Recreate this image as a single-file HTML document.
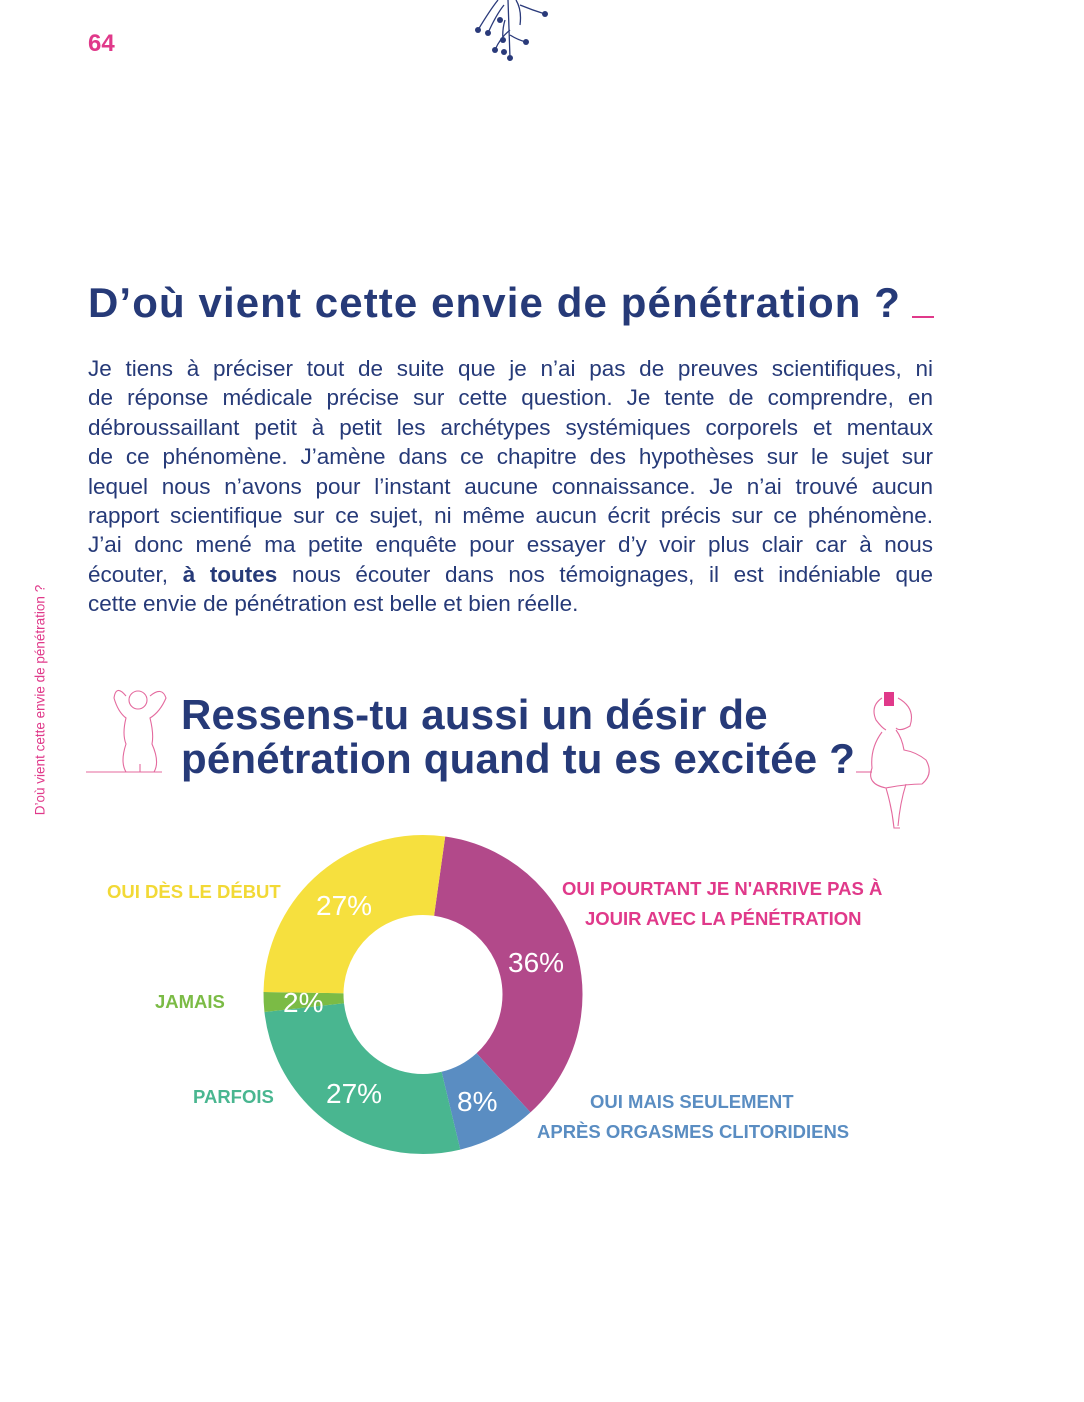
<!DOCTYPE html>
<html><head><meta charset="utf-8"><style>
body{margin:0;width:1084px;height:1402px;background:#fff;position:relative;overflow:hidden;font-family:"Liberation Sans",sans-serif;color:#263a78}
.a{position:absolute}
.ln{position:absolute;left:88px;width:845px;font-size:22.5px;text-align:justify;text-align-last:justify;white-space:nowrap;height:29px;line-height:29px}
h1,h2{margin:0;font-weight:bold;position:absolute}
.lab{position:absolute;font-weight:bold;font-size:18.5px;white-space:nowrap}
</style></head><body>
<div class="a" style="left:88px;top:30px;font-size:24px;font-weight:bold;color:#e0398a">64</div>
<svg class="a" style="left:460px;top:0" width="100" height="65" viewBox="0 0 100 65" fill="none" stroke="#2a3a7a" stroke-width="1.3">
<path d="M48 0 L50 58 M38 0 Q30 10 18 30 M44 5 Q36 15 28 33 M56 0 Q62 10 60 25 M60 5 Q72 10 85 14 M50 30 Q40 38 35 50 M50 35 Q58 40 66 42 M45 20 Q42 30 43 40"/>
<g fill="#2a3a7a" stroke="none"><circle cx="18" cy="30" r="3"/><circle cx="28" cy="33" r="3"/><circle cx="43" cy="40" r="3"/><circle cx="35" cy="50" r="3"/><circle cx="44" cy="52" r="3"/><circle cx="50" cy="58" r="3"/><circle cx="66" cy="42" r="3"/><circle cx="85" cy="14" r="3"/><circle cx="40" cy="20" r="3"/></g></svg>
<div class="a" style="left:40px;top:700px;transform:translate(-50%,-50%) rotate(-90deg);font-size:13.5px;color:#e0398a;white-space:nowrap">D’où vient cette envie de pénétration ?</div>
<h1 style="left:88px;top:279px;font-size:42px;letter-spacing:1.1px;white-space:nowrap">D’où vient cette envie de pénétration ?</h1>
<div class="a" style="left:912px;top:316px;width:22px;height:1.5px;background:#e0398a"></div>
<div class="ln" style="top:354px">Je tiens à préciser tout de suite que je n’ai pas de preuves scientifiques, ni</div>
<div class="ln" style="top:383px">de réponse médicale précise sur cette question. Je tente de comprendre, en</div>
<div class="ln" style="top:413px">débroussaillant petit à petit les archétypes systémiques corporels et mentaux</div>
<div class="ln" style="top:442px">de ce phénomène. J’amène dans ce chapitre des hypothèses sur le sujet sur</div>
<div class="ln" style="top:472px">lequel nous n’avons pour l’instant aucune connaissance. Je n’ai trouvé aucun</div>
<div class="ln" style="top:501px">rapport scientifique sur ce sujet, ni même aucun écrit précis sur ce phénomène.</div>
<div class="ln" style="top:530px">J’ai donc mené ma petite enquête pour essayer d’y voir plus clair car à nous</div>
<div class="ln" style="top:560px">écouter, <b>à toutes</b> nous écouter dans nos témoignages, il est indéniable que</div>
<div class="ln" style="top:589px;text-align-last:left">cette envie de pénétration est belle et bien réelle.</div>
<svg class="a" style="left:86px;top:684px" width="90" height="92" viewBox="0 0 90 92" fill="none" stroke="#e46a9e" stroke-width="1.1">
<path d="M0 88 H76"/><circle cx="52" cy="16" r="9"/><path d="M40 12 Q30 0 28 14 Q32 28 40 34 Q36 50 40 60 Q34 78 40 88 M64 12 Q76 2 80 14 Q74 28 64 34 Q68 50 66 60 Q74 78 68 88 M54 80 V88"/></svg>
<h2 style="left:181px;top:693px;font-size:42px;line-height:44px;letter-spacing:0.2px;white-space:nowrap">Ressens-tu aussi un désir de<br>pénétration quand tu es excitée ?</h2>
<svg class="a" style="left:856px;top:688px" width="80" height="145" viewBox="0 0 80 145" fill="none" stroke="#e46a9e" stroke-width="1.1">
<path d="M0 84 H16"/><rect x="28" y="4" width="10" height="14" fill="#e0398a" stroke="none"/><path d="M26 10 Q14 18 20 32 Q26 40 30 42 M42 10 Q60 20 54 38 Q44 44 40 40 M26 44 Q14 60 16 80 Q10 96 30 100 Q50 96 66 96 Q78 86 70 72 Q60 64 48 62 Q46 50 40 42 M30 100 Q36 120 38 140 H44 M50 96 Q44 115 42 138"/></svg>
<svg class="a" style="left:0;top:0" width="1084" height="1402">
<g transform="rotate(-82 423 994.5)" fill="none" stroke-width="80">
<circle cx="423" cy="994.5" r="119.5" stroke="#b2498a" stroke-dasharray="270.3 480.5" stroke-dashoffset="0"/>
<circle cx="423" cy="994.5" r="119.5" stroke="#5a8dc2" stroke-dasharray="60.1 690.7" stroke-dashoffset="-270.3"/>
<circle cx="423" cy="994.5" r="119.5" stroke="#49b690" stroke-dasharray="202.7 548.1" stroke-dashoffset="-330.4"/>
<circle cx="423" cy="994.5" r="119.5" stroke="#7bbb45" stroke-dasharray="15 735.8" stroke-dashoffset="-533.1"/>
<circle cx="423" cy="994.5" r="119.5" stroke="#f6e03e" stroke-dasharray="202.7 548.1" stroke-dashoffset="-548.1"/>
</g>
<g fill="#fff" font-family="Liberation Sans,sans-serif" font-size="28">
<text x="316" y="915">27%</text><text x="508" y="972">36%</text><text x="283" y="1012">2%</text><text x="326" y="1103">27%</text><text x="457" y="1111">8%</text></g>
</svg>
<div class="lab" style="left:107px;top:881px;color:#f2d936">OUI DÈS LE DÉBUT</div>
<div class="lab" style="left:155px;top:991px;color:#7bbb45">JAMAIS</div>
<div class="lab" style="left:193px;top:1086px;color:#49b690">PARFOIS</div>
<div class="lab" style="left:562px;top:878px;color:#e0398a">OUI POURTANT JE N'ARRIVE PAS À</div>
<div class="lab" style="left:585px;top:908px;color:#e0398a">JOUIR AVEC LA PÉNÉTRATION</div>
<div class="lab" style="left:590px;top:1091px;color:#5a8dc2">OUI MAIS SEULEMENT</div>
<div class="lab" style="left:537px;top:1121px;color:#5a8dc2">APRÈS ORGASMES CLITORIDIENS</div>
</body></html>
